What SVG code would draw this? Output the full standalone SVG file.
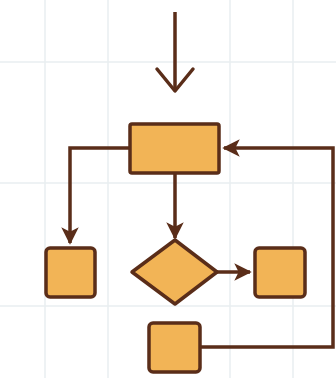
<svg xmlns="http://www.w3.org/2000/svg" width="336" height="378" viewBox="0 0 336 378">
<style>
.grid{stroke:#e9eef0;stroke-width:1.5}
.node{fill:#f2b456;stroke:#5a2d19;stroke-width:3.5;stroke-linejoin:round}
.conn{fill:none;stroke:#5a2d19;stroke-width:3.5}
</style>
<defs>
<marker id="ah" viewBox="0 0 10 10" refX="9" refY="5" markerWidth="5" markerHeight="5" orient="auto" markerUnits="strokeWidth">
<path d="M0,0 L10,5 L0,10 L2.5,5 Z" fill="#5a2d19"/>
</marker>
</defs>
<rect width="336" height="378" fill="#ffffff"/>
<g id="grid">
<line class="grid" x1="45" y1="0" x2="45" y2="378"/>
<line class="grid" x1="108" y1="0" x2="108" y2="378"/>
<line class="grid" x1="230" y1="0" x2="230" y2="378"/>
<line class="grid" x1="293" y1="0" x2="293" y2="378"/>
<line class="grid" x1="0" y1="62" x2="336" y2="62"/>
<line class="grid" x1="0" y1="183" x2="336" y2="183"/>
<line class="grid" x1="0" y1="306" x2="336" y2="306"/>
</g>
<g id="connectors">
<path class="conn" d="M175,12 V91"/>
<path class="conn" d="M157,69 L175,91 L193,69" stroke-linecap="round" stroke-linejoin="round"/>
<path class="conn" d="M130,148 H70 V243" marker-end="url(#ah)"/>
<path class="conn" d="M175,173 V238" marker-end="url(#ah)"/>
<path class="conn" d="M217,272 H250" marker-end="url(#ah)"/>
<path class="conn" d="M201,347 H333 V148 H224" marker-end="url(#ah)"/>
</g>
<g id="start"><rect class="node" x="130" y="124" width="89" height="49" rx="2"/></g>
<g id="left"><rect class="node" x="46" y="248" width="49" height="49" rx="4"/></g>
<g id="decision"><polygon class="node" points="175,240 217,272 175,304 132,272"/></g>
<g id="right"><rect class="node" x="255" y="248" width="50" height="49" rx="4"/></g>
<g id="bottom"><rect class="node" x="149" y="323" width="51" height="49" rx="4"/></g>
</svg>
